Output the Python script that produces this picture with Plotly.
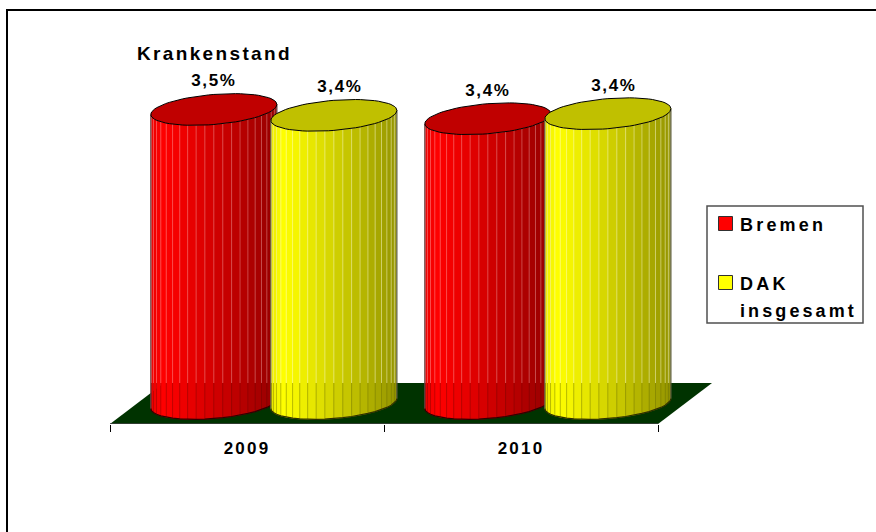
#!/usr/bin/env python3
"""Krankenstand 2009/2010: 3D cylinder bars, Bremen vs. DAK insgesamt."""
import math

import plotly.graph_objects as go

WIDTH = 876
HEIGHT = 532

YEARS = ["2009", "2010"]
SERIES = ["Bremen", "DAK insgesamt"]
BREMEN = [3.50, 3.39]
DAK = [3.43, 3.45]
BREMEN_LABELS = ["3,5%", "3,4%"]
DAK_LABELS = ["3,4%", "3,4%"]

# cylinder geometry, in axis units
GROUP_SHIFT = 0.098
HALF_GAP = 0.219
RADIUS = 0.23
CAP_B = 0.179
CAP_TILT = 0.0595
LABEL_LIFT = 0.325
N_STRIPS = 22
FLOOR_FRONT = -0.244
FLOOR_BACK = 0.244
FLOOR_DX = 0.197

RED = (255, 0, 0)
YELLOW = (255, 255, 0)
RED_CAP = "#c00000"
YELLOW_CAP = "#c0c000"
FLOOR = "#003300"
EDGE = "#404040"
FONT = "Liberation Sans, Arial, sans-serif"


def px_x(x):
    return x / WIDTH


def px_y(y):
    return 1 - y / HEIGHT


def spaced(text, px):
    return f'<span style="letter-spacing:{px}px"><b>{text}</b></span>'


def shade(color, t):
    # bright just left of the middle, darker toward both edges
    if t < 0.1:
        s = 0.92 + 0.08 * t / 0.1
    else:
        s = 1.0 - 0.42 * ((t - 0.1) / 0.9) ** 1.1
    return "rgb({},{},{})".format(*[int(c * s) for c in color])


def rim(cx, level, theta):
    return cx + RADIUS * math.cos(theta), level + CAP_TILT * math.cos(theta) - CAP_B * math.sin(theta)


def add_poly(fig, xs, ys, fill, line=None, width=0):
    fig.add_trace(go.Scatter(
        x=xs, y=ys, mode="lines", fill="toself", fillcolor=fill,
        line=dict(color=line or fill, width=width),
        hoverinfo="skip", showlegend=False, cliponaxis=False,
    ))


def add_cylinder(fig, cx, value, base_color, cap_color, seam_hi, seam_lo):
    thetas = [math.pi - math.pi * i / N_STRIPS for i in range(N_STRIPS + 1)]
    for a, b in zip(thetas[:-1], thetas[1:]):
        xa, ya = rim(cx, 0, a)
        xb, yb = rim(cx, 0, b)
        t = ((xa + xb) / 2 - (cx - RADIUS)) / (2 * RADIUS)
        add_poly(fig, [xa, xb, xb, xa, xa], [ya, yb, yb + value, ya + value, ya], shade(base_color, t),
                 width=0.5)

    hi_x, hi_y, lo_x, lo_y = [], [], [], []
    for th in thetas[1:-1]:
        x, y = rim(cx, 0, th)
        hi_x += [x, x, None]
        hi_y += [FLOOR_BACK, y + value, None]
        lo_x += [x, x, None]
        lo_y += [y, FLOOR_BACK, None]
    fig.add_trace(go.Scatter(x=hi_x, y=hi_y, mode="lines", line=dict(color=seam_hi, width=1),
                             hoverinfo="skip", showlegend=False))
    fig.add_trace(go.Scatter(x=lo_x, y=lo_y, mode="lines", line=dict(color=seam_lo, width=1),
                             hoverinfo="skip", showlegend=False))

    # outline: bottom arc and the two sides
    arc = [rim(cx, 0, th) for th in thetas]
    fig.add_trace(go.Scatter(
        x=[p[0] for p in arc], y=[p[1] for p in arc], mode="lines",
        line=dict(color="#300000" if base_color == RED else "#303000", width=1.2),
        hoverinfo="skip", showlegend=False, cliponaxis=False,
    ))
    for th in (thetas[0], thetas[-1]):
        x, y = rim(cx, 0, th)
        fig.add_trace(go.Scatter(x=[x, x], y=[y, y + value], mode="lines",
                                 line=dict(color="#505050", width=1),
                                 hoverinfo="skip", showlegend=False))

    ring = [2 * math.pi * i / 72 for i in range(73)]
    cap = [rim(cx, value, th) for th in ring]
    add_poly(fig, [p[0] for p in cap], [p[1] for p in cap], cap_color, line="#000000", width=1)


fig = go.Figure()

# floor plate
add_poly(
    fig,
    [-0.5, 1.5, 1.5 + FLOOR_DX, -0.5 + FLOOR_DX, -0.5],
    [FLOOR_FRONT, FLOOR_FRONT, FLOOR_BACK, FLOOR_BACK, FLOOR_FRONT],
    FLOOR,
)
fig.add_trace(go.Scatter(x=[-0.5, 1.5], y=[FLOOR_FRONT, FLOOR_FRONT], mode="lines",
                         line=dict(color=EDGE, width=1.5), hoverinfo="skip",
                         showlegend=False, cliponaxis=False))

label_x, label_y, label_text = [], [], []
for i in range(len(YEARS)):
    left = i + GROUP_SHIFT - HALF_GAP
    right = i + GROUP_SHIFT + HALF_GAP
    add_cylinder(fig, left, BREMEN[i], RED, RED_CAP, "rgba(255,190,190,0.35)", "rgba(110,0,0,0.3)")
    add_cylinder(fig, right, DAK[i], YELLOW, YELLOW_CAP, "rgba(255,255,210,0.45)", "rgba(120,120,0,0.4)")
    label_x += [left, right + 0.022]
    label_y += [BREMEN[i] + LABEL_LIFT, DAK[i] + LABEL_LIFT]
    label_text += [spaced(BREMEN_LABELS[i], 1.6), spaced(DAK_LABELS[i], 1.6)]

fig.add_trace(go.Scatter(
    x=label_x, y=label_y, text=label_text, mode="text", textposition="middle center",
    textfont=dict(family=FONT, size=17, color="#000000"),
    hoverinfo="skip", showlegend=False, cliponaxis=False,
))

shapes = [
    # outer frame: only left and top edges are on the picture
    dict(type="line", xref="paper", yref="paper", x0=px_x(7), x1=px_x(7), y0=px_y(9), y1=px_y(532),
         line=dict(color="#000000", width=2)),
    dict(type="line", xref="paper", yref="paper", x0=px_x(6), x1=px_x(876), y0=px_y(10), y1=px_y(10),
         line=dict(color="#000000", width=2)),
    # legend box and swatches
    dict(type="rect", xref="paper", yref="paper", x0=px_x(707), x1=px_x(863), y0=px_y(206), y1=px_y(323),
         line=dict(color="#505050", width=1.5), fillcolor="#ffffff"),
    dict(type="rect", xref="paper", yref="paper", x0=px_x(718.5), x1=px_x(732.5), y0=px_y(216.5), y1=px_y(230.5),
         line=dict(color="#303030", width=1), fillcolor="#ff0000"),
    dict(type="rect", xref="paper", yref="paper", x0=px_x(718.5), x1=px_x(732.5), y0=px_y(275.5), y1=px_y(289.5),
         line=dict(color="#303030", width=1), fillcolor="#ffff00"),
]


def note(text, x, y, size, track, anchor="left"):
    return dict(text=spaced(text, track), xref="paper", yref="paper", x=px_x(x), y=px_y(y),
                xanchor=anchor, yanchor="middle", showarrow=False, align=anchor,
                font=dict(family=FONT, size=size, color="#000000"))


annotations = [
    note("Krankenstand", 214.5, 54, 19, 2.35, "center"),
    note("Bremen", 738, 225, 18, 3.2),
    note("DAK", 738, 284, 18, 3.2),
    note("insgesamt", 738, 311, 18, 3.1),
]

fig.update_layout(
    width=WIDTH, height=HEIGHT,
    margin=dict(l=0, r=0, t=0, b=0),
    paper_bgcolor="#ffffff", plot_bgcolor="rgba(0,0,0,0)",
    showlegend=False, shapes=shapes, annotations=annotations,
    xaxis=dict(
        domain=[px_x(110), px_x(712)],
        range=[-0.5, 1.697],
        tickvals=[0, 1],
        ticktext=[spaced(y, 2.2) for y in YEARS],
        tickfont=dict(family=FONT, size=17, color="#000000"),
        ticks="",
        ticklabelstandoff=12,
        showgrid=False, zeroline=False, showline=False,
        minor=dict(tickvals=[-0.5, 0.5, 1.5], ticks="outside", ticklen=7, tickwidth=1, tickcolor="#000000",
                   showgrid=False),
    ),
    yaxis=dict(
        domain=[px_y(424), px_y(60)],
        range=[FLOOR_FRONT, 4.089],
        visible=False,
    ),
)

fig.write_html("out.html", config=dict(displayModeBar=False), post_script="document.body.style.margin='0';")
